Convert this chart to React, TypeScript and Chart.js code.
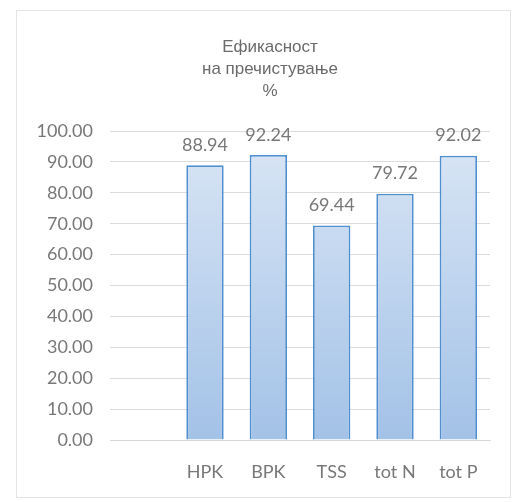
import React, { useEffect, useRef } from "react";
import { Chart, registerables } from "chart.js";

Chart.register(...registerables);

const categories = ["", "HPK", "BPK", "TSS", "tot N", "tot P"];
const values: (number | null)[] = [null, 88.94, 92.24, 69.44, 79.72, 92.02];
const titleLines = ["Ефикасност", "на пречистување", "%"];

const numFont = "Lato, 'Open Sans', sans-serif";

const frame = {
  id: "frame",
  beforeDraw(chart: any) {
    const ctx = chart.ctx;
    ctx.save();
    ctx.fillStyle = "#ffffff";
    ctx.fillRect(0, 0, chart.width, chart.height);
    ctx.strokeStyle = "#e4e4e4";
    ctx.lineWidth = 1;
    ctx.strokeRect(16.5, 10.5, 494, 487);
    ctx.restore();
  },
  afterDraw(chart: any) {
    const ctx = chart.ctx;
    ctx.save();
    ctx.font = "17px 'Liberation Sans', Arial, sans-serif";
    ctx.fillStyle = "#6b6b6b";
    ctx.textAlign = "center";
    ctx.textBaseline = "middle";
    titleLines.forEach((t, i) => ctx.fillText(t, 270, 47 + i * 22));
    ctx.restore();
  },
};

const valueLabels = {
  id: "valueLabels",
  afterDatasetsDraw(chart: any) {
    const ctx = chart.ctx;
    const meta = chart.getDatasetMeta(0);
    ctx.save();
    ctx.font = "18px " + numFont;
    ctx.fillStyle = "#787878";
    ctx.textAlign = "center";
    ctx.textBaseline = "middle";
    meta.data.forEach((bar: any, i: number) => {
      const v = values[i];
      if (v == null) return;
      ctx.fillText(v.toFixed(2), bar.x, bar.y - 20);
    });
    ctx.restore();
  },
};

export default function App() {
  const ref = useRef<HTMLCanvasElement>(null);
  useEffect(() => {
    const canvas = ref.current!;
    const chart = new Chart(canvas, {
      type: "bar",
      data: {
        labels: categories,
        datasets: [
          {
            data: values,
            backgroundColor: (c: any) => {
              const area = c.chart.chartArea;
              if (!area) return "#bcd3ee";
              const g = c.chart.ctx.createLinearGradient(0, area.top, 0, area.bottom);
              g.addColorStop(0, "#dae6f5");
              g.addColorStop(1, "#a3c2e7");
              return g;
            },
            borderColor: "#4f8fcf",
            borderWidth: 1.8,
            barPercentage: 0.59,
            categoryPercentage: 1,
          },
        ],
      },
      options: {
        responsive: false,
        animation: false,
        events: [],
        layout: { padding: { left: 0, right: 26, top: 131, bottom: 0 } },
        plugins: {
          legend: { display: false },
          tooltip: { enabled: false },
          title: { display: false },
        },
        scales: {
          x: {
            afterFit: (s: any) => {
              s.height = 62;
            },
            grid: { display: false, drawTicks: false },
            border: { display: true, color: "#d6d6d6", width: 1 },
            ticks: {
              color: "#787878",
              padding: 21,
              font: { family: numFont, size: 18 },
            },
          },
          y: {
            min: 0,
            max: 100,
            afterFit: (s: any) => {
              s.width = 110;
            },
            grid: { color: "#dcdcdc", drawTicks: false, lineWidth: 1 },
            border: { display: false },
            ticks: {
              stepSize: 10,
              padding: 17,
              color: "#787878",
              font: { family: numFont, size: 18 },
              callback: (v: any) => Number(v).toFixed(2),
            },
          },
        },
      },
      plugins: [frame, valueLabels],
    });
    return () => chart.destroy();
  }, []);
  return (
    <div style={{ position: "absolute", left: 0, top: 0, width: 516, height: 502 }}>
      <canvas ref={ref} width={516} height={502} />
    </div>
  );
}
